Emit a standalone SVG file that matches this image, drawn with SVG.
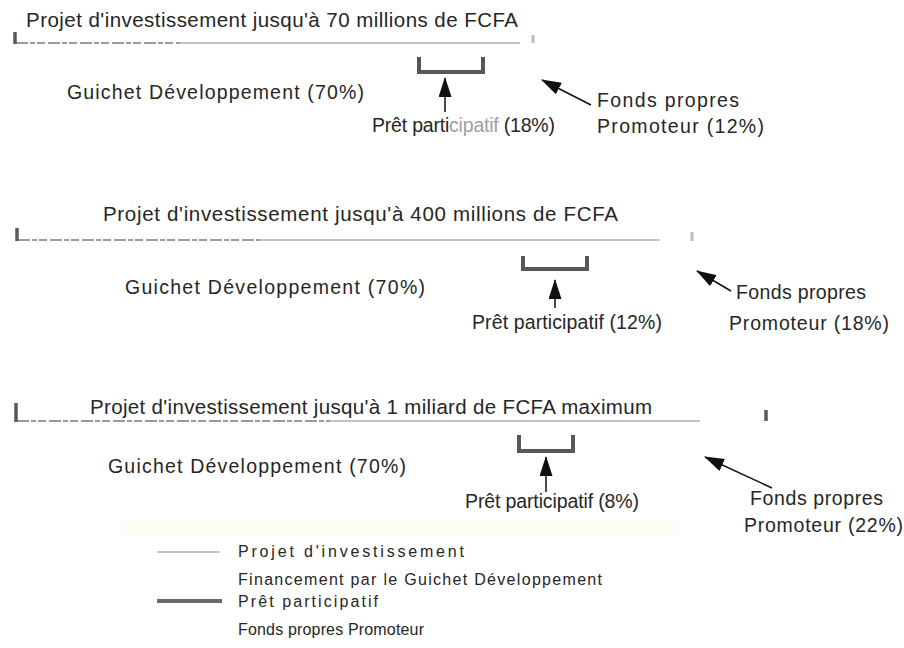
<svg xmlns="http://www.w3.org/2000/svg" width="904" height="648" viewBox="0 0 904 648">
  <style>
    text { font-family: "Liberation Sans", Arial, Helvetica, sans-serif; fill: #262626; }
    .title { font-size: 20.5px; }
    .lbl { font-size: 19.5px; }
    .leg { font-size: 16px; }
    .proj { stroke: #c4c4c4; stroke-width: 2; fill: none; }
    .projdark { stroke: #9a9a9a; stroke-width: 2; fill: none; stroke-dasharray: 12 2 5 2 8 3; }
    .tick { stroke: #5a5a5a; stroke-width: 3.5; }
    .tickl { stroke: #bdbdbd; stroke-width: 3; }
    .bracket { stroke: #585858; stroke-width: 4; fill: none; }
    .arrow { stroke: #111; stroke-width: 1.5; fill: none; marker-end: url(#head); }
    .fade { fill: #a0a0a0; }
  </style>
  <defs>
    <marker id="head" viewBox="0 0 20 13" refX="19" refY="6.5" markerWidth="20" markerHeight="13" markerUnits="userSpaceOnUse" orient="auto">
      <path d="M0,0 L20,6.5 L0,13 Z" fill="#111"/>
    </marker>
  </defs>
  <rect width="904" height="648" fill="#ffffff"/>

  <!-- Case 1: up to 70 million FCFA -->
  <g id="case1">
    <text class="title" x="26" y="27" textLength="492" lengthAdjust="spacing">Projet d'investissement jusqu'à 70 millions de FCFA</text>
    <line class="projdark" x1="16" y1="43" x2="180" y2="43"/>
    <line class="proj" x1="180" y1="43" x2="520" y2="43"/>
    <line class="tick" x1="15" y1="32" x2="15" y2="44"/>
    <line class="tickl" x1="533" y1="35" x2="533" y2="43"/>
    <path class="bracket" d="M419,57 V72 H483 V57"/>
    <text class="lbl" x="67" y="99" textLength="297" lengthAdjust="spacing">Guichet Développement  (70%)</text>
    <text class="lbl" x="372" y="132" textLength="183" lengthAdjust="spacing">Prêt parti<tspan class="fade">cipatif</tspan> (18%)</text>
    <text class="lbl" x="597" y="107" textLength="142" lengthAdjust="spacing">Fonds propres</text>
    <text class="lbl" x="597" y="133" textLength="167" lengthAdjust="spacing">Promoteur (12%)</text>
  </g>

  <!-- Case 2: up to 400 million FCFA -->
  <g id="case2">
    <text class="title" x="103" y="221" textLength="515" lengthAdjust="spacing">Projet d'investissement jusqu'à 400 millions de FCFA</text>
    <line class="projdark" x1="18" y1="240" x2="260" y2="240"/>
    <line class="proj" x1="260" y1="240" x2="660" y2="240"/>
    <line class="tick" x1="17" y1="228" x2="17" y2="241"/>
    <line class="tickl" x1="692" y1="232" x2="692" y2="241"/>
    <path class="bracket" d="M523,256 V269 H587 V256"/>
    <text class="lbl" x="125" y="294" textLength="300" lengthAdjust="spacing">Guichet Développement  (70%)</text>
    <text class="lbl" x="472" y="329" textLength="190" lengthAdjust="spacing">Prêt participatif (12%)</text>
    <text class="lbl" x="736" y="299" textLength="130" lengthAdjust="spacing">Fonds propres</text>
    <text class="lbl" x="729" y="330" textLength="160" lengthAdjust="spacing">Promoteur (18%)</text>
  </g>

  <!-- Case 3: up to 1 billion FCFA -->
  <g id="case3">
    <text class="title" x="90" y="414" textLength="562" lengthAdjust="spacing">Projet d'investissement jusqu'à  1 miliard de FCFA maximum</text>
    <line class="projdark" x1="17" y1="421" x2="330" y2="421"/>
    <line class="proj" x1="330" y1="421" x2="700" y2="421"/>
    <line class="tick" x1="16" y1="403" x2="16" y2="422"/>
    <line class="tick" x1="766" y1="410" x2="766" y2="421"/>
    <path class="bracket" d="M519,435 V451 H573 V435"/>
    <text class="lbl" x="108" y="473" textLength="298" lengthAdjust="spacing">Guichet Développement  (70%)</text>
    <text class="lbl" x="465" y="508" textLength="174" lengthAdjust="spacing">Prêt participatif (8%)</text>
    <text class="lbl" x="750" y="505" textLength="133" lengthAdjust="spacing">Fonds propres</text>
    <text class="lbl" x="744" y="532" textLength="159" lengthAdjust="spacing">Promoteur (22%)</text>
  </g>

  <!-- Pointer arrows -->
  <g id="connectors">
    <line class="arrow" x1="445" y1="112" x2="445" y2="78"/>
    <line class="arrow" x1="591" y1="105" x2="542" y2="80"/>
    <line class="arrow" x1="555" y1="308" x2="555" y2="280"/>
    <line class="arrow" x1="731" y1="291" x2="697" y2="271"/>
    <line class="arrow" x1="546" y1="492" x2="546" y2="457"/>
    <line class="arrow" x1="772" y1="488" x2="705" y2="457"/>
  </g>

  <!-- Legend -->
  <g id="legend">
    <rect x="120" y="520" width="560" height="16" fill="#fdfdf8"/>
    <line class="proj" x1="157" y1="552" x2="220" y2="552"/>
    <text class="leg" x="238" y="557" textLength="226" lengthAdjust="spacing">Projet d'investissement</text>
    <text class="leg" x="238" y="585" textLength="364" lengthAdjust="spacing">Financement par le Guichet Développement</text>
    <line stroke="#6a6a6a" stroke-width="4" x1="157" y1="601" x2="222" y2="601"/>
    <text class="leg" x="238" y="607" textLength="140" lengthAdjust="spacing">Prêt participatif</text>
    <text class="leg" x="238" y="635" textLength="186" lengthAdjust="spacing">Fonds propres Promoteur</text>
  </g>
</svg>
